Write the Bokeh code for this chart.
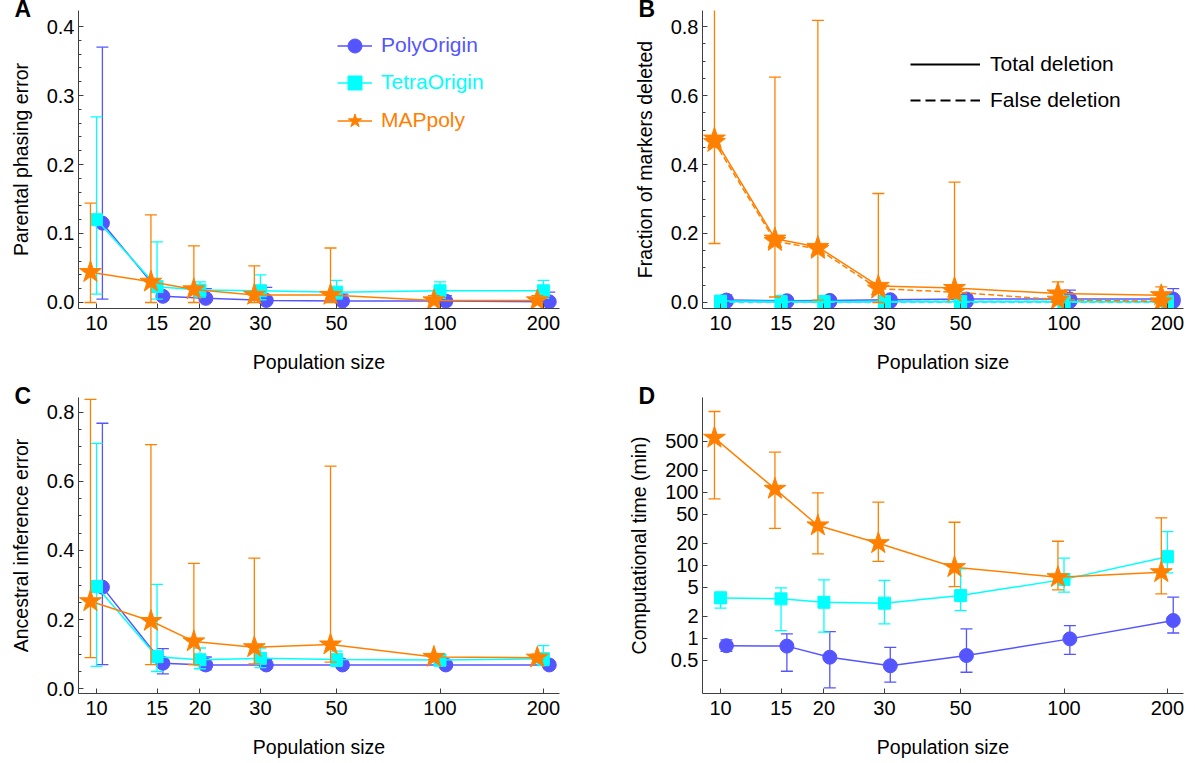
import math
from bokeh.plotting import figure
from bokeh.models import (FixedTicker, CustomJSTickFormatter, PrintfTickFormatter,
                          Legend, LegendItem, Range1d)
from bokeh.layouts import column, row
from bokeh.embed import file_html
from bokeh.resources import INLINE

# ---------------- data ----------------
pop = [10, 15, 20, 30, 50, 100, 200]
methods = ["PolyOrigin", "TetraOrigin", "MAPpoly"]

# Panel A: parental phasing error
a_poly = [0.115, 0.009, 0.006, 0.003, 0.002, 0.002, 0.001]
a_poly_hi = [0.370, 0.014, 0.020, 0.022, 0.012, 0.010, 0.015]
a_poly_lo = [0.005, 0.004, 0.001, 0.0, 0.0, 0.0, 0.0]
a_tetra = [0.120, 0.023, 0.018, 0.017, 0.015, 0.017, 0.017]
a_tetra_hi = [0.269, 0.088, 0.030, 0.040, 0.032, 0.030, 0.032]
a_tetra_lo = [0.012, 0.005, 0.008, 0.004, 0.005, 0.006, 0.006]
a_map = [0.044, 0.030, 0.019, 0.011, 0.011, 0.003, 0.003]
a_map_hi = [0.144, 0.127, 0.082, 0.053, 0.079, 0.010, 0.010]
a_map_lo = [0.0, 0.0, 0.0, 0.0, 0.0, 0.0, 0.0]

# Panel B: fraction of markers deleted (total / false)
b_poly = [0.007, 0.005, 0.006, 0.008, 0.010, 0.010, 0.010]
b_poly_hi = [0.022, 0.012, 0.013, 0.018, 0.022, 0.036, 0.040]
b_poly_lo = [0.0, 0.0, 0.0, 0.0, 0.0, 0.0, 0.0]
b_poly_false = [0.003, 0.002, 0.002, 0.003, 0.003, 0.003, 0.003]
b_tetra = [0.004, 0.003, 0.003, 0.003, 0.003, 0.003, 0.003]
b_tetra_hi = [0.010, 0.008, 0.008, 0.008, 0.008, 0.008, 0.008]
b_tetra_lo = [0.0, 0.0, 0.0, 0.0, 0.0, 0.0, 0.0]
b_tetra_false = [0.001, 0.001, 0.001, 0.001, 0.001, 0.001, 0.001]
b_map = [0.475, 0.185, 0.161, 0.048, 0.042, 0.026, 0.021]
b_map_hi = [0.95, 0.653, 0.818, 0.316, 0.349, 0.060, 0.045]
b_map_lo = [0.171, 0.016, 0.007, 0.0, 0.012, 0.0, 0.0]
b_map_false = [0.465, 0.178, 0.155, 0.040, 0.030, 0.008, 0.003]

# Panel C: ancestral inference error
c_poly = [0.294, 0.074, 0.069, 0.069, 0.069, 0.069, 0.069]
c_poly_hi = [0.768, 0.116, 0.092, 0.085, 0.080, 0.078, 0.078]
c_poly_lo = [0.070, 0.043, 0.055, 0.058, 0.060, 0.060, 0.060]
c_tetra = [0.296, 0.093, 0.084, 0.088, 0.085, 0.083, 0.087]
c_tetra_hi = [0.710, 0.302, 0.118, 0.118, 0.109, 0.100, 0.125]
c_tetra_lo = [0.065, 0.050, 0.058, 0.061, 0.065, 0.066, 0.067]
c_map = [0.253, 0.196, 0.137, 0.120, 0.128, 0.092, 0.090]
c_map_hi = [0.837, 0.706, 0.363, 0.378, 0.644, 0.101, 0.100]
c_map_lo = [0.090, 0.070, 0.070, 0.072, 0.077, 0.085, 0.085]

# Panel D: computational time (min)
d_poly = [0.79, 0.78, 0.55, 0.42, 0.58, 0.98, 1.75]
d_poly_hi = [0.95, 1.15, 1.23, 0.75, 1.34, 1.49, 3.65]
d_poly_lo = [0.66, 0.353, 0.209, 0.25, 0.342, 0.60, 1.18]
d_tetra = [3.57, 3.46, 3.11, 3.02, 3.84, 6.4, 13.1]
d_tetra_hi = [4.27, 4.9, 6.3, 6.2, 8.9, 12.5, 28.9]
d_tetra_lo = [2.58, 1.27, 1.21, 1.57, 2.39, 4.27, 7.85]
d_map = [555, 111, 35, 20, 9.4, 6.85, 8.0]
d_map_hi = [1274, 353, 98, 73, 38.8, 21.3, 44.5]
d_map_lo = [81, 32, 14.3, 11.3, 5.1, 4.6, 4.05]

x_ticks = [10, 15, 20, 30, 50, 100, 200]
d_y_ticks = [0.5, 1, 2, 5, 10, 20, 50, 100, 200, 500]

# ---------------- style ----------------
BLUE = "#5555FF"
CYAN = "#00FFFF"
ORANGE = "#FF8000"
FONT = "Liberation Sans"
AXIS_COLOR = "#404040"
DODGE = {"PolyOrigin": 1.04, "TetraOrigin": 1.0, "MAPpoly": 0.96}
STYLE = {
    "PolyOrigin": dict(color=BLUE, marker="circle", size=14),
    "TetraOrigin": dict(color=CYAN, marker="square", size=12),
    "MAPpoly": dict(color=ORANGE, marker="star", size=23),
}

FW, FH_TOP, FH_BOT = 481, 298, 296


def make_fig(ylabel, yr, log_y, ticks, minor, fh, border_top, border_bottom,
             border_right, fmt):
    p = figure(
        frame_width=FW, frame_height=fh,
        x_axis_type="log", y_axis_type="log" if log_y else "linear",
        x_range=Range1d(8.86, 222.8), y_range=Range1d(*yr),
        toolbar_location=None, output_backend="svg",
        min_border_left=78, min_border_right=border_right,
        min_border_top=border_top, min_border_bottom=border_bottom,
        outline_line_color=None, background_fill_color="white",
    )
    p.xgrid.visible = False
    p.ygrid.visible = False
    p.xaxis.ticker = FixedTicker(ticks=x_ticks)
    p.xaxis.formatter = CustomJSTickFormatter(code="return String(tick)")
    p.yaxis.ticker = FixedTicker(ticks=ticks, minor_ticks=minor)
    p.yaxis.formatter = fmt
    for ax in (p.xaxis[0], p.yaxis[0]):
        ax.axis_line_color = AXIS_COLOR
        ax.major_tick_line_color = AXIS_COLOR
        ax.minor_tick_line_color = AXIS_COLOR
        ax.major_tick_in = 5
        ax.major_tick_out = 0
        ax.minor_tick_in = 3
        ax.minor_tick_out = 0
        ax.major_label_text_font = FONT
        ax.major_label_text_font_size = "20px"
        ax.major_label_text_color = "black"
        ax.axis_label_text_font = FONT
        ax.axis_label_text_font_size = "19.5px"
        ax.axis_label_text_font_style = "normal"
        ax.axis_label_text_color = "black"
    p.xaxis.axis_label = "Population size"
    p.xaxis.major_label_standoff = 7
    p.xaxis.axis_label_standoff = 18
    p.yaxis.axis_label = ylabel
    p.yaxis.major_label_standoff = 4
    p.yaxis.axis_label_standoff = 12
    return p


def panel_letter(p, letter):
    # panel letter drawn as a left-aligned title kept inside the top border
    p.title.text = letter
    p.title.align = "left"
    p.title.offset = -64
    p.title.standoff = -25
    p.title.vertical_align = "middle"
    p.title.text_font = FONT
    p.title.text_font_size = "23px"
    p.title.text_font_style = "bold"
    p.title.text_color = "black"


def add_series(p, name, y, lo=None, hi=None, dash="solid", bars=True):
    st = STYLE[name]
    xs = [v * DODGE[name] for v in pop]
    if bars:
        p.segment(xs, lo, xs, hi, line_color=st["color"], line_width=1.3)
        p.scatter(xs, hi, marker="dash", size=12, line_color=st["color"], line_width=1.3)
        p.scatter(xs, lo, marker="dash", size=12, line_color=st["color"], line_width=1.3)
    ln = p.line(xs, y, line_color=st["color"], line_width=1.5, line_dash=dash)
    pts = p.scatter(xs, y, marker=st["marker"], size=st["size"],
                    fill_color=st["color"], line_color=st["color"])
    return ln, pts


fmt1 = lambda: PrintfTickFormatter(format="%.1f")

# ---------------- Panel A ----------------
pA = make_fig("Parental phasing error", (-0.0087, 0.4232), False,
              [0, 0.1, 0.2, 0.3, 0.4], [round(0.02 * i, 2) for i in range(1, 21) if i % 5],
              FH_TOP, 10, 79, 65, fmt1())
rA = {}
rA["PolyOrigin"] = add_series(pA, "PolyOrigin", a_poly, a_poly_lo, a_poly_hi)
rA["TetraOrigin"] = add_series(pA, "TetraOrigin", a_tetra, a_tetra_lo, a_tetra_hi)
rA["MAPpoly"] = add_series(pA, "MAPpoly", a_map, a_map_lo, a_map_hi)
leg_y = [245.5, 208.5, 170.5]
for name, ly in zip(methods, leg_y):
    leg = Legend(items=[LegendItem(label=name, renderers=list(rA[name]))],
                 location=(259, ly), padding=0, margin=0, border_line_alpha=0,
                 background_fill_alpha=0, glyph_width=35, glyph_height=35,
                 label_height=24, label_standoff=9, label_text_font=FONT,
                 label_text_font_size="21px", label_text_color=STYLE[name]["color"])
    pA.add_layout(leg)
panel_letter(pA, "A")

# ---------------- Panel B ----------------
pB = make_fig("Fraction of markers deleted", (-0.0174, 0.8464), False,
              [0, 0.2, 0.4, 0.6, 0.8], [round(0.05 * i, 2) for i in range(1, 17) if i % 4],
              FH_TOP, 10, 79, 12, fmt1())
add_series(pB, "PolyOrigin", b_poly, b_poly_lo, b_poly_hi)
add_series(pB, "PolyOrigin", b_poly_false, dash="6 3", bars=False)
add_series(pB, "TetraOrigin", b_tetra, b_tetra_lo, b_tetra_hi)
add_series(pB, "TetraOrigin", b_tetra_false, dash="6 3", bars=False)
add_series(pB, "MAPpoly", b_map_false, dash="6 3", bars=False)
add_series(pB, "MAPpoly", b_map, b_map_lo, b_map_hi)
# legend-only renderers (no visible data)
tot = pB.line([10, 20], [math.nan, math.nan], line_color="black", line_width=2)
fal = pB.line([10, 20], [math.nan, math.nan], line_color="black", line_width=2, line_dash="10 5")
pB.add_layout(Legend(items=[LegendItem(label="Total deletion", renderers=[tot]),
                            LegendItem(label="False deletion", renderers=[fal])],
                     location=(208, 196), padding=0, margin=0, spacing=12,
                     border_line_alpha=0, background_fill_alpha=0,
                     glyph_width=70, glyph_height=24, label_height=24, label_standoff=10,
                     label_text_font=FONT, label_text_font_size="21px",
                     label_text_color="black"))
panel_letter(pB, "B")

# ---------------- Panel C ----------------
pC = make_fig("Ancestral inference error", (-0.0136, 0.8425), False,
              [0, 0.2, 0.4, 0.6, 0.8], [round(0.05 * i, 2) for i in range(1, 17) if i % 4],
              FH_BOT, 10, 70, 65, fmt1())
add_series(pC, "PolyOrigin", c_poly, c_poly_lo, c_poly_hi)
add_series(pC, "TetraOrigin", c_tetra, c_tetra_lo, c_tetra_hi)
add_series(pC, "MAPpoly", c_map, c_map_lo, c_map_hi)
panel_letter(pC, "C")

# ---------------- Panel D ----------------
pD = make_fig("Computational time (min)", (0.175, 1982), True,
              d_y_ticks, [], FH_BOT, 10, 70, 12,
              CustomJSTickFormatter(code="return String(tick)"))
add_series(pD, "PolyOrigin", d_poly, d_poly_lo, d_poly_hi)
add_series(pD, "TetraOrigin", d_tetra, d_tetra_lo, d_tetra_hi)
add_series(pD, "MAPpoly", d_map, d_map_lo, d_map_hi)
panel_letter(pD, "D")

layout = column(row(pA, pB, spacing=0), row(pC, pD, spacing=0), spacing=0)
open("out.html", "w").write(file_html(layout, INLINE))
